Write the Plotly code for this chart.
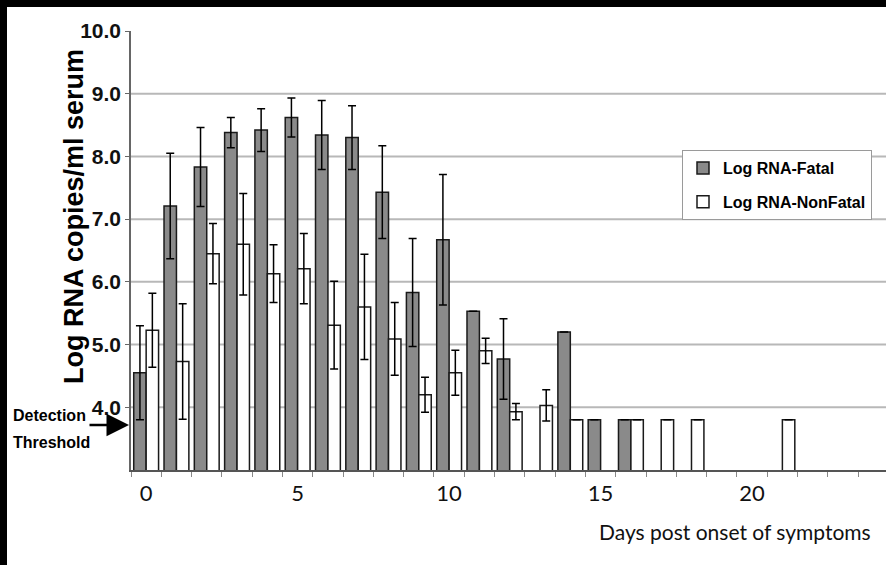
import plotly.graph_objects as go

# Viral load (log10 RNA copies per ml serum) by day after symptom onset
days = list(range(25))
THRESHOLD = 3.8

fatal = [4.55, 7.21, 7.83, 8.38, 8.42, 8.62, 8.34, 8.30, 7.43, 5.83, 6.67, 5.53,
         4.77, None, 5.20, THRESHOLD, THRESHOLD, None, None, None, None, None,
         None, None, None]
fatal_err = [0.75, 0.84, 0.63, 0.24, 0.34, 0.31, 0.55, 0.51, 0.74, 0.86, 1.04,
             None, 0.64, None, None, None, None, None, None, None, None, None,
             None, None, None]

nonfatal = [5.23, 4.73, 6.45, 6.60, 6.13, 6.21, 5.31, 5.60, 5.09, 4.20, 4.55,
            4.90, 3.93, 4.03, THRESHOLD, None, THRESHOLD, THRESHOLD, THRESHOLD,
            None, None, THRESHOLD, None, None, None]
nonfatal_err = [0.59, 0.92, 0.48, 0.81, 0.46, 0.56, 0.70, 0.84, 0.58, 0.28, 0.36,
                0.20, 0.13, 0.25, None, None, None, None, None, None, None, None,
                None, None, None]

y_ticks = [4, 5, 6, 7, 8, 9, 10]
y_tick_text = ["4.0", "5.0", "6.0", "7.0", "8.0", "9.0", "10.0"]
x_ticks = [0, 5, 10, 15, 20]

SANS = "Liberation Sans, Arial, sans-serif"
HUMANIST = "Lato, Liberation Sans, sans-serif"

W, H = 886, 565
L, R, T, B = 131, 0, 31, 95
PW, PH = W - L - R, H - T - B


def px_x(p):
    return (p - L) / PW


def px_y(p):
    return (H - B - p) / PH


err_style = dict(type="data", symmetric=True, color="black", thickness=1.5, width=4)

fig = go.Figure()
fig.add_trace(go.Bar(
    x=days, y=fatal, name="Log RNA-Fatal", legendgroup="fatal",
    marker=dict(color="#8a8a8a", line=dict(color="#1a1a1a", width=1.5)),
    error_y=dict(array=fatal_err, **err_style),
))
fig.add_trace(go.Bar(
    x=days, y=nonfatal, name="Log RNA-NonFatal", legendgroup="nonfatal",
    marker=dict(color="white", line=dict(color="#1a1a1a", width=1.5)),
    error_y=dict(array=nonfatal_err, **err_style),
))

fig.update_layout(
    width=W, height=H,
    margin=dict(l=L, r=R, t=T, b=B, pad=0),
    paper_bgcolor="white", plot_bgcolor="white",
    barmode="group", bargap=0.18, bargroupgap=0,
    showlegend=True,
    legend=dict(
        x=px_x(872), xanchor="right", y=px_y(150), yanchor="top",
        bgcolor="white", bordercolor="#9a9a9a", borderwidth=1,
        font=dict(family=SANS, size=16, color="black", weight="bold"),
        itemwidth=30, traceorder="grouped", tracegroupgap=10,
    ),
    xaxis=dict(
        range=[-0.5, 24.42], tickmode="array", tickvals=x_ticks,
        ticktext=[str(v) for v in x_ticks],
        tickfont=dict(family=HUMANIST, size=22, color="#111"),
        ticks="", showgrid=False, zeroline=False,
        showline=True, linecolor="#555", linewidth=2,
        ticklabelstandoff=3,
        minor=dict(tickmode="linear", tick0=-0.5, dtick=1, ticks="outside",
                   ticklen=5, tickcolor="#888", tickwidth=1, showgrid=False),
    ),
    yaxis=dict(
        range=[3.0, 10.0], tickmode="array", tickvals=y_ticks, ticktext=y_tick_text,
        tickfont=dict(family=SANS, size=21, color="#111", weight="bold"),
        ticks="outside", ticklen=4, tickcolor="#666",
        showgrid=False, zeroline=False,
        showline=True, linecolor="#666", linewidth=1.5,
    ),
)

# gridlines at every labelled value except the top of the range
for v in y_ticks[:-1]:
    fig.add_hline(y=v, line=dict(color="#b8b8b8", width=2), layer="below")

fig.add_annotation(
    text="Log RNA copies/ml serum", textangle=-90,
    xref="paper", yref="paper", x=px_x(74), y=px_y(217),
    xanchor="center", yanchor="middle", showarrow=False,
    font=dict(family=SANS, size=27, color="black", weight="bold"),
)
fig.add_annotation(
    text="Days post onset of symptoms",
    xref="paper", yref="paper", x=px_x(873), y=px_y(531),
    xanchor="right", yanchor="middle", showarrow=False,
    font=dict(family=HUMANIST, size=21, color="#111"),
)
fig.add_annotation(
    text="Detection", xref="paper", yref="paper", x=px_x(11), y=px_y(415),
    xanchor="left", yanchor="middle", showarrow=False,
    font=dict(family=SANS, size=16, color="black", weight="bold"),
)
fig.add_annotation(
    text="Threshold", xref="paper", yref="paper", x=px_x(11), y=px_y(442),
    xanchor="left", yanchor="middle", showarrow=False,
    font=dict(family=SANS, size=16, color="black", weight="bold"),
)
fig.add_annotation(
    text="", xref="paper", yref="paper", x=px_x(129), y=px_y(425),
    ax=-41, ay=0, showarrow=True, arrowhead=2, arrowsize=1.8,
    arrowwidth=2.5, arrowcolor="black",
)

# black frame strips along the top and left edges
fig.add_shape(type="rect", xref="paper", yref="paper",
              x0=px_x(0), x1=px_x(W), y0=px_y(7), y1=px_y(0),
              fillcolor="black", line=dict(width=0), layer="above")
fig.add_shape(type="rect", xref="paper", yref="paper",
              x0=px_x(0), x1=px_x(7), y0=px_y(H), y1=px_y(0),
              fillcolor="black", line=dict(width=0), layer="above")

fig.write_html("out.html")
